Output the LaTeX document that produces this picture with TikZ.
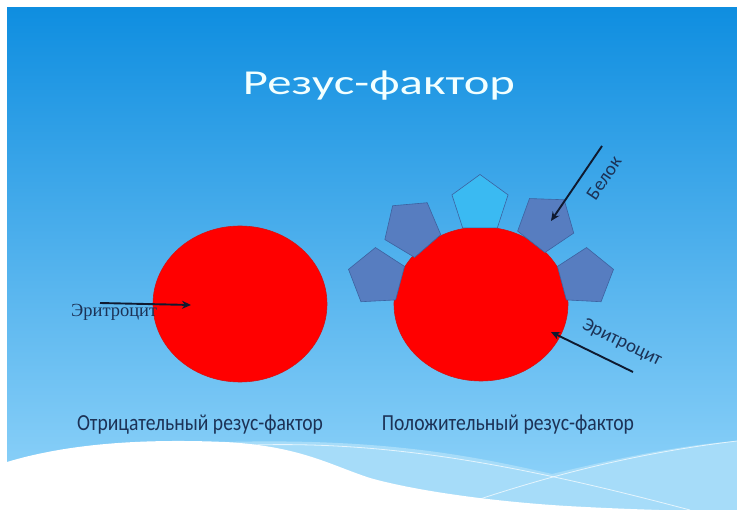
\documentclass[tikz,border=0pt]{standalone}
\usepackage{fontspec}
\usepackage{graphicx}
\setmainfont{Carlito}
\newfontfamily\labelserif{Liberation Serif}
\usetikzlibrary{shapes.geometric,arrows.meta}

\definecolor{skytop}{HTML}{0F8EE0}
\definecolor{skymid}{HTML}{4DB0EC}
\definecolor{skybot}{HTML}{93D5FA}
\definecolor{waveband}{HTML}{A6DCF9}
\definecolor{cellred}{HTML}{FF0000}
\definecolor{cellrim}{HTML}{D81010}
\definecolor{protdark}{HTML}{577DC0}
\definecolor{protrim}{HTML}{3D62A0}
\definecolor{protlight}{HTML}{3ABAF2}
\definecolor{navytext}{HTML}{1C3256}
\definecolor{arrowink}{HTML}{0F1A30}
\definecolor{titlewhite}{HTML}{F2FFFF}

\begin{document}
\begin{tikzpicture}[x=1pt,y=-1pt,
  cell/.style={ellipse,fill=cellred,draw=cellrim,line width=0.6pt,
    minimum width=174pt,minimum height=156pt,inner sep=0pt},
  protein/.style={regular polygon,regular polygon sides=5,minimum size=59pt,
    inner sep=0pt,fill=protdark,draw=protrim,line width=0.6pt},
  proteinhi/.style={protein,fill=protlight},
  pointer/.style={draw=arrowink,line width=1.9pt,
    -{Stealth[length=9pt,width=8pt]}},
  caption/.style={text=navytext,inner sep=0pt},
  tag/.style={text=navytext,inner sep=0pt,font=\fontsize{19}{22}\selectfont}]

\useasboundingbox (0,0) rectangle (737,510);

% slide background
\shade[top color=skytop,middle color=skymid,bottom color=skybot]
  (7,8) rectangle (737,511);

% lighter band under the wave crest
\fill[waveband] (225,442) .. controls (380,438) and (470,455) .. (552,474)
  .. controls (610,460) and (680,445) .. (737,441) -- (737,511) -- (7,511) -- cycle;
% white wave
\fill[white] (0,462) -- (7,462) .. controls (60,446) and (130,438) .. (225,442)
  .. controls (300,446) and (330,465) .. (370,478)
  .. controls (420,492) and (500,502) .. (567,506)
  .. controls (620,509) and (660,510) .. (690,511) -- (0,511) -- cycle;
% thin highlight lines across the wave
\draw[white,opacity=0.7,line width=0.8pt]
  (230,446) .. controls (380,438) and (520,465) .. (690,510);
\draw[white,opacity=0.7,line width=0.8pt]
  (462,505) .. controls (530,482) and (620,455) .. (737,441);

% title
\node[anchor=base,inner sep=0pt,text=titlewhite] (title) at (379,95)
  {\resizebox{272pt}{\height}{\fontsize{35}{42}\selectfont Резус-фактор}};

% Rh-negative cell
\node[cell] (cellA) at (240,304) {};
\node[caption,anchor=base west] (eryA) at (71,317)
  {\resizebox{86pt}{\height}{\labelserif\fontsize{18.5}{22}\selectfont Эритроцит}};
\coordinate (eryAtail) at (100,303);
\coordinate (eryAhead) at (191,305);
\draw[pointer] (eryAtail) -- (eryAhead);

% Rh-positive cell with surface proteins
\node[cell,minimum height=154pt] (cellB) at (481,304) {};
\node[protein,rotate=3]   (protFL) at (377,277) {};
\node[protein,rotate=-31] (protUL) at (412,228) {};
\node[proteinhi]          (protT)  at (480,204) {};
\node[protein,rotate=-38] (protUR) at (546,223) {};
\node[protein,rotate=-3]  (protFR) at (585,277) {};

\node[tag,rotate=56] (belok) at (604,178) {Белок};
\coordinate (belokTail) at (602,146);
\coordinate (belokHead) at (551,221);
\draw[pointer] (belokTail) -- (belokHead);

\node[tag,rotate=-26] (eryB) at (622,343) {Эритроцит};
\coordinate (eryBtail) at (633,372);
\coordinate (eryBhead) at (551,332);
\draw[pointer] (eryBtail) -- (eryBhead);

% captions
\node[caption,anchor=base] (negLabel) at (200,431)
  {\resizebox{246pt}{\height}{\fontsize{23}{28}\selectfont Отрицательный резус-фактор}};
\node[caption,anchor=base] (posLabel) at (508,431)
  {\resizebox{252pt}{\height}{\fontsize{23}{28}\selectfont Положительный резус-фактор}};

\end{tikzpicture}
\end{document}
